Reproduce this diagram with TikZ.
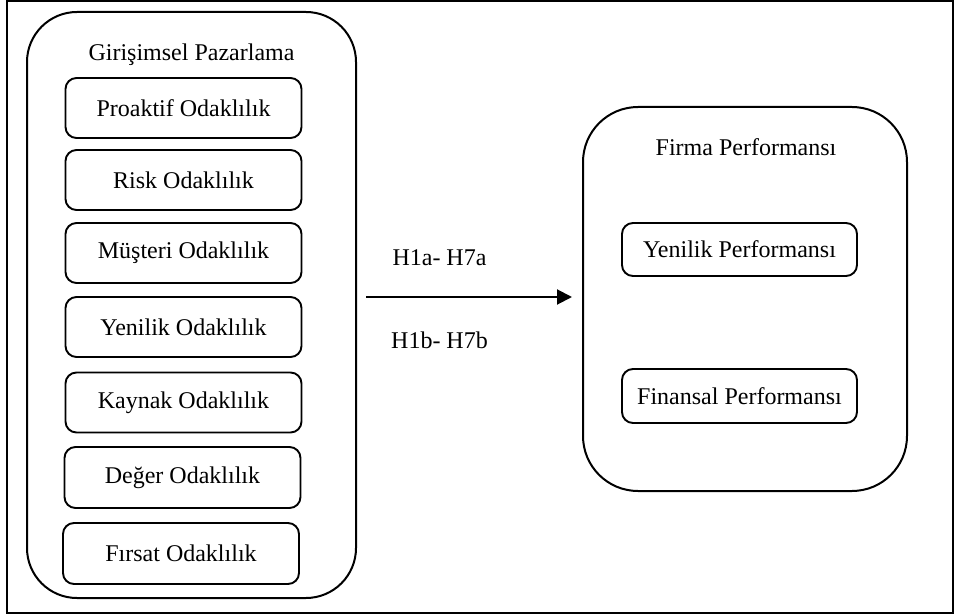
\documentclass[tikz,border=0pt]{standalone}
\usepackage{fontspec}
\setmainfont{Liberation Serif}
\usetikzlibrary{arrows.meta}
\begin{document}
\begin{tikzpicture}[x=1pt,y=-1pt,
  every node/.style={font=\fontsize{24}{28}\selectfont},
  bigbox/.style={draw,line width=2pt,rounded corners=50pt,inner sep=0pt},
  smallbox/.style={draw,line width=1.9pt,rounded corners=11pt,inner sep=0pt,minimum width=236pt},
  lbl/.style={inner sep=0pt}]
\useasboundingbox (0,0) rectangle (954,615);
\draw[line width=2pt] (7,1) rectangle (953,613);
% left group
\node[bigbox,minimum width=329pt,minimum height=586pt] (gp) at (191.5,305) {};
\node[lbl] (gpt) at (191.5,55) {Girişimsel Pazarlama};
\node[smallbox,minimum height=60pt] (s1) at (183.5,108) {Proaktif Odaklılık};
\node[smallbox,minimum height=60pt] (s2) at (183.5,180) {Risk Odaklılık};
\node[smallbox,minimum height=60pt] (s3) at (183.5,253) {Müşteri Odaklılık};
\node[smallbox,minimum height=60pt] (s4) at (183.5,327) {Yenilik Odaklılık};
\node[smallbox,minimum height=60pt] (s5) at (183.5,402.5) {Kaynak Odaklılık};
\node[smallbox,minimum height=61pt] (s6) at (182.5,477.5) {Değer Odaklılık};
\node[smallbox,minimum height=61pt] (s7) at (181,553.5) {Fırsat Odaklılık};
% right group
\node[bigbox,rounded corners=55pt,minimum width=324pt,minimum height=384pt] (fp) at (745,299) {};
\node[lbl] (fpt) at (746,147) {Firma Performansı};
\node[smallbox,minimum width=235pt,minimum height=53pt] (r1) at (739.5,249.5) {Yenilik Performansı};
\node[smallbox,minimum width=235pt,minimum height=54pt] (r2) at (739.5,396) {Finansal Performansı};
% arrow
\draw[line width=2pt,-{Triangle[length=15pt,width=15pt]},shorten <=9pt,shorten >=10pt]
  (gp.east |- 0,297) -- (fp.west |- 0,297);
\node[lbl] (ha) at (439.5,258) {H1a- H7a};
\node[lbl] (hb) at (439.5,340) {H1b- H7b};
\end{tikzpicture}
\end{document}
